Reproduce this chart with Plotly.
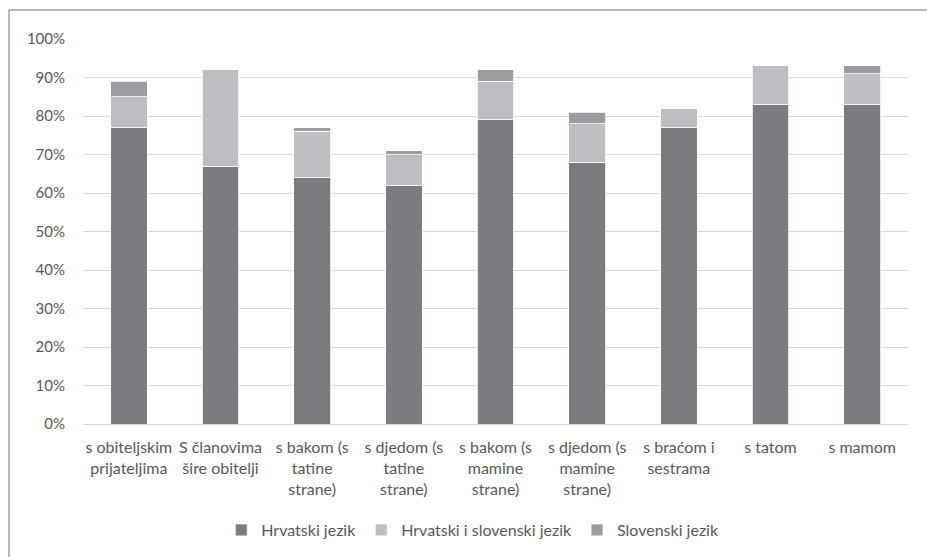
import plotly.graph_objects as go

categories = [
    "s obiteljskim<br>prijateljima",
    "S članovima<br>šire obitelji",
    "s bakom (s<br>tatine<br>strane)",
    "s djedom (s<br>tatine<br>strane)",
    "s bakom (s<br>mamine<br>strane)",
    "s djedom (s<br>mamine<br>strane)",
    "s braćom i<br>sestrama",
    "s tatom",
    "s mamom",
]

hrvatski = [0.77, 0.67, 0.64, 0.62, 0.79, 0.68, 0.77, 0.83, 0.83]
hrvatski_i_slovenski = [0.08, 0.25, 0.12, 0.08, 0.10, 0.10, 0.05, 0.10, 0.08]
slovenski = [0.04, 0.00, 0.01, 0.01, 0.03, 0.03, 0.00, 0.00, 0.02]

series = [
    ("Hrvatski jezik", hrvatski, "#7b7c80"),
    ("Hrvatski i slovenski jezik", hrvatski_i_slovenski, "#bdbec2"),
    ("Slovenski jezik", slovenski, "#9c9da1"),
]

FONT = "Lato"
TEXT = "#595959"

W, H = 927, 557
ML, MR, MT, MB = 83, 19, 39, 133

fig = go.Figure()
for name, vals, color in series:
    fig.add_trace(go.Bar(
        x=list(range(len(categories))),
        y=vals,
        name=name,
        marker=dict(color=color, line=dict(color="#ffffff", width=0.8)),
    ))

# outer chart frame (top and left edges visible)
pw, ph = W - ML - MR, H - MT - MB
fx0 = (9 - ML) / pw
fy1 = (H - MB - 10) / ph
fig.add_shape(type="line", xref="paper", yref="paper",
              x0=fx0, x1=(W + 10 - ML) / pw, y0=fy1, y1=fy1,
              line=dict(color="#a0a0a0", width=1.5))
fig.add_shape(type="line", xref="paper", yref="paper",
              x0=fx0, x1=fx0, y0=fy1, y1=-(MB + 10) / ph,
              line=dict(color="#a0a0a0", width=1.5))

fig.update_layout(
    width=W, height=H,
    margin=dict(l=ML, r=MR, t=MT, b=MB),
    barmode="stack",
    bargap=0.6,
    plot_bgcolor="white",
    paper_bgcolor="white",
    font=dict(family=FONT, size=16, color=TEXT),
    showlegend=True,
    legend=dict(
        orientation="h",
        xref="container", yref="container",
        x=0.510, xanchor="center",
        y=1 - 530 / H, yanchor="middle",
        font=dict(family=FONT, size=16, color=TEXT),
        itemwidth=30,
        traceorder="normal",
    ),
    xaxis=dict(
        tickmode="array",
        tickvals=list(range(len(categories))),
        ticktext=categories,
        range=[-0.5, len(categories) - 0.5],
        showgrid=False,
        showline=True,
        linecolor="#d9d9d9",
        linewidth=1.3,
        ticks="",
        ticklabelstandoff=9,
        tickfont=dict(family=FONT, size=16, color=TEXT),
        fixedrange=True,
    ),
    yaxis=dict(
        range=[0, 1.0],
        dtick=0.1,
        tickformat=".0%",
        showgrid=True,
        gridcolor="#d9d9d9",
        gridwidth=1.3,
        zeroline=False,
        showline=False,
        ticks="",
        ticklabelstandoff=17,
        tickfont=dict(family=FONT, size=15, color=TEXT),
        fixedrange=True,
    ),
)

fig.write_html("out.html")
